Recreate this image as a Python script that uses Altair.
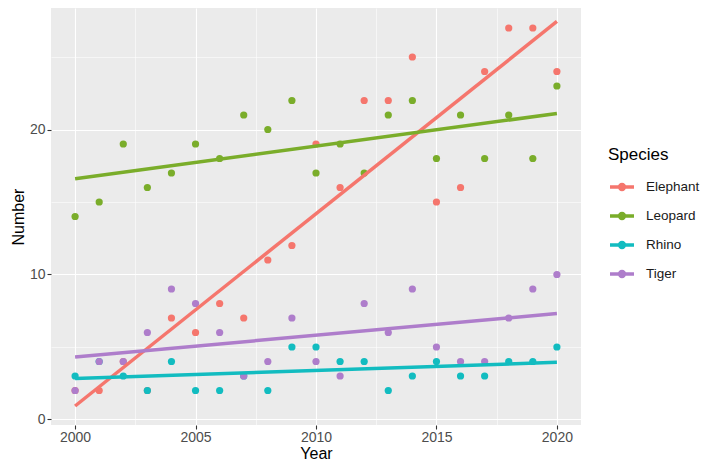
import altair as alt
import pandas as pd

years = list(range(2000, 2021))
species = ["Elephant", "Leopard", "Rhino", "Tiger"]
elephant = [2, 2, 4, 2, 7, 6, 8, 7, 11, 12, 19, 16, 22, 22, 25, 15, 16, 24, 27, 27, 24]
leopard = [14, 15, 19, 16, 17, 19, 18, 21, 20, 22, 17, 19, 17, 21, 22, 18, 21, 18, 21, 18, 23]
rhino = [3, 4, 3, 2, 4, 2, 2, 3, 2, 5, 5, 4, 4, 2, 3, 4, 3, 3, 4, 4, 5]
tiger = [2, 4, 4, 6, 9, 8, 6, 3, 4, 7, 4, 3, 8, 6, 9, 5, 4, 4, 7, 9, 10]
colors = ["#F5766D", "#7AAD2A", "#12BCC0", "#AE7DCB"]

x_major = [2000, 2005, 2010, 2015, 2020]
x_minor = [2002.5, 2007.5, 2012.5, 2017.5]
y_major = [0, 10, 20]
y_minor = [5, 15, 25]

rows = []
for name, vals in zip(species, [elephant, leopard, rhino, tiger]):
    for yr, v in zip(years, vals):
        rows.append({"Year": yr, "Number": v, "Species": name})
df = pd.DataFrame(rows)

FONT = "Liberation Sans"
xscale = alt.Scale(domain=[1999, 2021], nice=False, zero=False)
yscale = alt.Scale(domain=[-0.38, 28.38], nice=False, zero=False)

sym_path = "M-1,0H1M0.2,0A0.2,0.2,0,1,1,-0.2,0A0.2,0.2,0,1,1,0.2,0Z"
legend = alt.Legend(
    title="Species", orient="none", legendX=557, legendY=139,
    symbolType=sym_path, symbolSize=576, symbolStrokeWidth=3.5,
    labelFont=FONT, labelFontSize=13.5, labelColor="#1A1A1A", labelOffset=10,
    titleFont=FONT, titleFontSize=17, titleFontWeight="normal", titleColor="#000000",
    titlePadding=9, rowPadding=5, symbolOpacity=1,
)
cscale = alt.Scale(domain=species, range=colors)

xaxis = alt.Axis(values=x_major, format="d", title="Year", grid=True, gridColor="white",
                 gridWidth=1.1, tickSize=4, tickColor="#333333", tickWidth=1.1,
                 domain=False, labelPadding=1, labelFontSize=14, labelColor="#4D4D4D",
                 labelFont=FONT, titleFont=FONT, titleFontSize=16, titleFontWeight="normal",
                 titleColor="#000000", titlePadding=1, labelFlush=False)
yaxis = alt.Axis(values=y_major, title="Number", grid=True, gridColor="white",
                 gridWidth=1.1, tickSize=4, tickColor="#333333", tickWidth=1.1,
                 domain=False, labelPadding=2, labelFontSize=14, labelColor="#4D4D4D",
                 labelFont=FONT, titleFont=FONT, titleFontSize=16, titleFontWeight="normal",
                 titleColor="#000000", titlePadding=3, labelFlush=False)

minor = alt.Chart(df).mark_point(opacity=0).encode(
    x=alt.X("Year:Q", scale=xscale,
            axis=alt.Axis(values=x_minor, orient="top", grid=True, gridColor="white",
                          gridWidth=0.55, labels=False, ticks=False, domain=False, title=None)),
    y=alt.Y("Number:Q", scale=yscale,
            axis=alt.Axis(values=y_minor, orient="right", grid=True, gridColor="white",
                          gridWidth=0.55, labels=False, ticks=False, domain=False, title=None)),
)

points = alt.Chart(df).mark_circle(size=52, opacity=1).encode(
    x=alt.X("Year:Q", scale=xscale, axis=xaxis),
    y=alt.Y("Number:Q", scale=yscale, axis=yaxis),
    fill=alt.Fill("Species:N", scale=cscale, legend=legend),
)

lines = alt.Chart(df).transform_regression(
    "Year", "Number", groupby=["Species"], extent=[2000, 2020]
).mark_line(strokeWidth=3.5).encode(
    x=alt.X("Year:Q", scale=xscale, axis=None),
    y=alt.Y("Number:Q", scale=yscale, axis=None),
    stroke=alt.Stroke("Species:N", scale=cscale, legend=legend),
)

chart = alt.layer(minor, points, lines).resolve_axis(
    x="independent", y="independent"
).properties(
    width=530, height=417,
    autosize=alt.AutoSizeParams(type="none"),
    padding={"left": 43, "top": 0, "right": 120, "bottom": 37},
).configure_view(fill="#EBEBEB", stroke=None)

chart.save("out.html", embed_options={"renderer": "svg", "actions": False})
